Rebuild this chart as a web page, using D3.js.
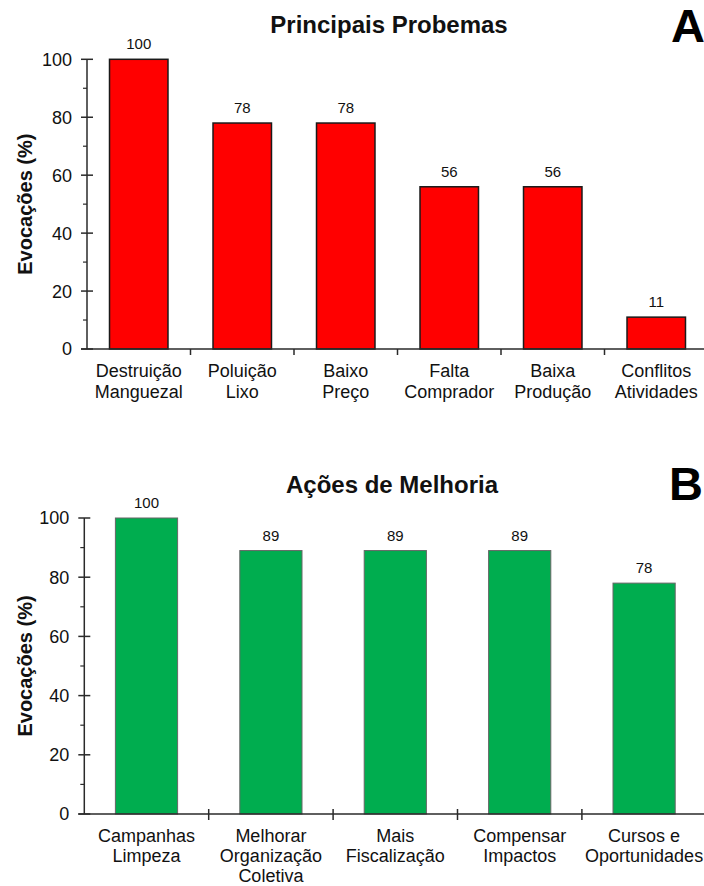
<!DOCTYPE html>
<html>
<head>
<meta charset="utf-8">
<script src="https://cdn.jsdelivr.net/npm/d3@7"></script>
<style>
html,body{margin:0;padding:0;background:#fff;}
svg{display:block;font-family:"Liberation Sans",Arial,Helvetica,sans-serif;}
</style>
</head>
<body>
<svg id="chart" width="704" height="886"></svg>
<script>
// ---- Data ----
const titleA = "Principais Probemas";
const categoriesA = [["Destruição","Manguezal"],["Poluição","Lixo"],["Baixo","Preço"],["Falta","Comprador"],["Baixa","Produção"],["Conflitos","Atividades"]];
const valuesA = [100, 78, 78, 56, 56, 11];

const titleB = "Ações de Melhoria";
const categoriesB = [["Campanhas","Limpeza"],["Melhorar","Organização","Coletiva"],["Mais","Fiscalização"],["Compensar","Impactos"],["Cursos e","Oportunidades"]];
const valuesB = [100, 89, 89, 89, 78];

const yTicks = [0, 20, 40, 60, 80, 100];
const yMinorTicks = [10, 30, 50, 70, 90];
const yLabel = "Evocações (%)";

const svg = d3.select("#chart");
const axisColor = "#2a2a2a";
const textColor = "#111";

function panel(cfg) {
  const g = svg.append("g");
  const x = d3.scaleBand().domain(cfg.cats.map((d,i)=>i)).range([cfg.x0, cfg.x1]).padding(0);
  const y = d3.scaleLinear().domain([0, 100]).range([cfg.yBottom, cfg.yTop]);
  const bw = x.bandwidth() * cfg.barRatio;

  g.selectAll("rect.bar").data(cfg.values).enter().append("rect")
    .attr("class","bar")
    .attr("x", (d,i)=> x(i) + (x.bandwidth()-bw)/2)
    .attr("y", d=> y(d))
    .attr("width", bw)
    .attr("height", d=> y(0)-y(d))
    .attr("fill", cfg.fill)
    .attr("stroke", cfg.stroke)
    .attr("stroke-width", cfg.strokeWidth);

  g.selectAll("text.val").data(cfg.values).enter().append("text")
    .attr("x", (d,i)=> x(i) + x.bandwidth()/2)
    .attr("y", d=> y(d) - 10)
    .attr("text-anchor","middle")
    .attr("font-size", 15)
    .attr("fill", textColor)
    .text(d=>d);

  g.append("line").attr("x1", cfg.x0).attr("x2", cfg.x0)
    .attr("y1", y(0)).attr("y2", y(100))
    .attr("stroke", axisColor).attr("stroke-width", 1.5);
  g.selectAll("line.maj").data(yTicks).enter().append("line")
    .attr("x1", cfg.x0 - 6).attr("x2", cfg.x0 + cfg.majRight)
    .attr("y1", d=>y(d)).attr("y2", d=>y(d))
    .attr("stroke", axisColor).attr("stroke-width", 1.5);
  g.selectAll("line.min").data(yMinorTicks).enter().append("line")
    .attr("x1", cfg.x0 - 4).attr("x2", cfg.x0)
    .attr("y1", d=>y(d)).attr("y2", d=>y(d))
    .attr("stroke", axisColor).attr("stroke-width", 1.2);
  g.selectAll("text.yt").data(yTicks).enter().append("text")
    .attr("x", cfg.x0 - 15)
    .attr("y", d=>y(d))
    .attr("dy", "0.36em")
    .attr("text-anchor","end")
    .attr("font-size", 18)
    .attr("fill", textColor)
    .text(d=>d);

  g.append("line").attr("x1", cfg.x0 - 6).attr("x2", cfg.x1 + 2)
    .attr("y1", y(0)).attr("y2", y(0))
    .attr("stroke", axisColor).attr("stroke-width", 1.5);
  const bounds = cfg.cats.map((d,i)=>i).slice(1);
  g.selectAll("line.xt").data(bounds).enter().append("line")
    .attr("x1", d=>x(d)).attr("x2", d=>x(d))
    .attr("y1", y(0) - cfg.xTickUp).attr("y2", y(0) + 6)
    .attr("stroke", axisColor).attr("stroke-width", 1.5);

  const cl = g.selectAll("text.cat").data(cfg.cats).enter().append("text")
    .attr("x", (d,i)=> x(i) + x.bandwidth()/2)
    .attr("y", y(0) + 28)
    .attr("text-anchor","middle")
    .attr("font-size", 18)
    .attr("fill", textColor);
  cl.each(function(d,i){
    const t = d3.select(this);
    d.forEach((line,k)=>{
      t.append("tspan").attr("x", x(i) + x.bandwidth()/2).attr("dy", k===0?0:cfg.lineH).text(line);
    });
  });

  g.append("text")
    .attr("transform", `translate(${cfg.yLabelX},${(y(0)+y(100))/2}) rotate(-90)`)
    .attr("text-anchor","middle")
    .attr("font-size", 20)
    .attr("font-weight","bold")
    .attr("fill", textColor)
    .text(yLabel);

  g.append("text").attr("x", cfg.titleX).attr("y", cfg.titleY)
    .attr("text-anchor","middle").attr("font-size", 24).attr("font-weight","bold")
    .attr("fill", textColor).text(cfg.title);
  g.append("text").attr("x", cfg.letterX).attr("y", cfg.letterY)
    .attr("font-size", 47).attr("font-weight","bold").attr("fill", "#000").text(cfg.letter);
}

panel({
  cats: categoriesA, values: valuesA, title: titleA, letter: "A",
  x0: 87, x1: 708, yBottom: 349, yTop: 59.3, barRatio: 0.565,
  fill: "#ff0000", stroke: "#1a1a1a", strokeWidth: 1.5,
  majRight: 6, xTickUp: 0, lineH: 21, yLabelX: 32,
  titleX: 389, titleY: 33, letterX: 671, letterY: 42
});

panel({
  cats: categoriesB, values: valuesB, title: titleB, letter: "B",
  x0: 84.3, x1: 706.3, yBottom: 814, yTop: 518, barRatio: 0.5,
  fill: "#00ad4f", stroke: "#666", strokeWidth: 1,
  majRight: 6, xTickUp: 5, lineH: 20, yLabelX: 32,
  titleX: 392, titleY: 493, letterX: 669, letterY: 500
});
</script>
</body>
</html>
